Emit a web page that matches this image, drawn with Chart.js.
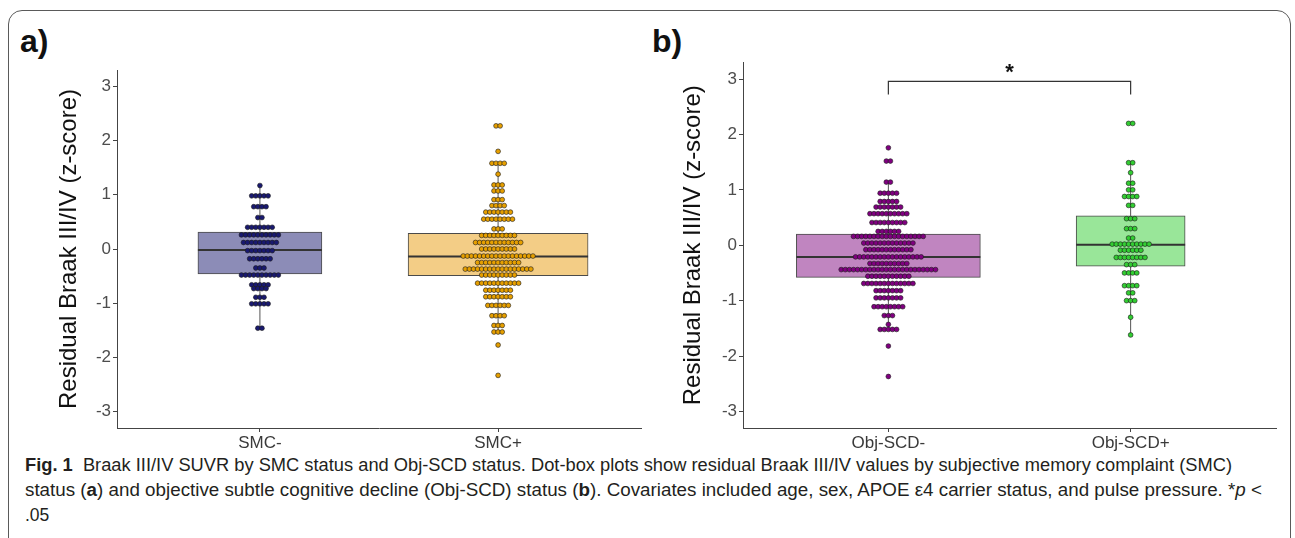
<!DOCTYPE html>
<html>
<head>
<meta charset="utf-8">
<script src="https://cdn.jsdelivr.net/npm/chart.js@4.4.1/dist/chart.umd.min.js"></script>
<style>
  body { margin: 0; background: #fff; width: 1295px; height: 538px; position: relative; overflow: hidden; font-family: "Liberation Sans", Arial, sans-serif; }
  #frame { position: absolute; left: 8px; top: 10px; width: 1283px; height: 700px; border: 1.5px solid #5a5a5a; border-radius: 14px; box-sizing: border-box; }
  canvas { position: absolute; top: 0; }
  .tag { position: absolute; top: 23px; font: bold 32px "Liberation Sans", Arial, sans-serif; color: #111; }
  .cap { position: absolute; left: 25px; font-size: 17.5px; color: #231f20; white-space: nowrap; transform-origin: 0 50%; }
</style>
</head>
<body>
<div id="frame"></div>
<div class="tag" style="left:20px">a)</div>
<div class="tag" style="left:652px">b)</div>
<canvas id="panelA" width="650" height="455" style="left:0"></canvas>
<canvas id="panelB" width="645" height="455" style="left:650px"></canvas>
<div class="cap" data-w="1207" style="top:455px"><b>Fig. 1</b>&nbsp; Braak III/IV SUVR by SMC status and Obj-SCD status. Dot-box plots show residual Braak III/IV values by subjective memory complaint (SMC)</div>
<div class="cap" data-w="1237" style="top:480px">status (<b>a</b>) and objective subtle cognitive decline (Obj-SCD) status (<b>b</b>). Covariates included age, sex, APOE ε4 carrier status, and pulse pressure. *<i>p</i> &lt;</div>
<div class="cap" style="top:505px">.05</div>
<script>
const yTitle = 'Residual Braak III/IV (z-score)';
const yTicks = [-3, -2, -1, 0, 1, 2, 3];

// panel a - SMC status
const catsA = ['SMC-', 'SMC+'];
const dotColorsA = ['#191970', '#E69F00'];
const boxColorsA = ['#8C8CB7', '#F3CD86'];
// dot rows: level of each row and how many dots sit in it
const smcNegRows = [1.17, 0.98, 0.78, 0.58, 0.40, 0.26, 0.12, -0.03, -0.18, -0.35, -0.48, -0.66, -0.73, -0.89, -1.01, -1.46];
const smcNegCounts = [1, 5, 4, 2, 7, 10, 9, 7, 6, 3, 10, 5, 4, 3, 5, 2];
const smcPosRows = [2.27, 1.80, 1.58, 1.38, 1.18, 1.07, 0.91, 0.80, 0.68, 0.55, 0.37, 0.25, 0.12, 0.0, -0.13, -0.25, -0.37, -0.48, -0.63, -0.76, -0.88, -1.04, -1.23, -1.41, -1.53, -1.77, -2.33];
const smcPosCounts = [2, 1, 4, 1, 3, 3, 3, 4, 7, 8, 3, 9, 12, 9, 18, 11, 17, 9, 11, 7, 7, 6, 4, 3, 3, 1, 1];
const q1A = [-0.46, -0.49];
const medA = [-0.02, -0.14];
const q3A = [0.31, 0.29];
const loA = [-1.46, -1.53];
const hiA = [1.17, 1.58];

// panel b - Obj-SCD status
const catsB = ['Obj-SCD-', 'Obj-SCD+'];
const dotColorsB = ['#800080', '#32CD32'];
const boxColorsB = ['#C085C0', '#99E699'];
const scdNegRows = [1.76, 1.52, 1.14, 0.94, 0.79, 0.69, 0.57, 0.41, 0.25, 0.16, 0.04, -0.08, -0.21, -0.33, -0.44, -0.56, -0.69, -0.82, -0.95, -1.11, -1.27, -1.43, -1.52, -1.82, -2.37];
const scdNegCounts = [1, 2, 2, 5, 5, 7, 10, 9, 6, 18, 13, 12, 17, 10, 24, 11, 13, 7, 7, 8, 3, 1, 5, 1, 1];
const scdPosRows = [2.20, 1.49, 1.31, 1.12, 1.0, 0.88, 0.72, 0.48, 0.30, 0.13, 0.02, -0.09, -0.22, -0.35, -0.50, -0.73, -0.86, -1.0, -1.30, -1.62];
const scdPosCounts = [2, 2, 1, 2, 2, 4, 2, 3, 3, 2, 10, 6, 8, 3, 4, 4, 2, 3, 1, 1];
const q1B = [-0.58, -0.38];
const medB = [-0.21, 0.01];
const q3B = [0.20, 0.53];
const loB = [-1.52, -1.62];
const hiB = [1.14, 1.49];

const FONT = '"Liberation Sans", Arial, sans-serif';
const DOT_STEP = 4.1; // px between dot centres in a row

function buildDots(rows, counts, cat, step) {
  const pts = [];
  rows.forEach((y, r) => {
    const n = counts[r];
    for (let k = 0; k < n; k++) {
      pts.push({ x: cat + (k - (n - 1) / 2) * step, y: y });
    }
  });
  return pts;
}

// draw the median right after its box so dots still go on top
const medianLine = {
  id: 'medianLine',
  afterDatasetDraw(chart, args) {
    const ds = chart.data.datasets[args.index];
    if (ds.median === undefined) return;
    const el = args.meta.data[0];
    const y = chart.scales.y.getPixelForValue(ds.median);
    const ctx = chart.ctx;
    ctx.save();
    ctx.strokeStyle = '#333';
    ctx.lineWidth = 2;
    ctx.beginPath();
    ctx.moveTo(el.x - el.width / 2, y);
    ctx.lineTo(el.x + el.width / 2, y);
    ctx.stroke();
    ctx.restore();
  }
};

function makePanel(id, p) {
  const datasets = [];
  const wh = [];
  p.cats.forEach((c, i) => {
    wh.push({ x: i + 1, y: p.lo[i] }, { x: i + 1, y: p.q1[i] }, { x: i + 1, y: null },
            { x: i + 1, y: p.q3[i] }, { x: i + 1, y: p.hi[i] }, { x: i + 1, y: null });
  });
  datasets.push({ type: 'line', data: wh, borderColor: '#555', borderWidth: 1, pointRadius: 0, spanGaps: false, order: 3 });
  p.cats.forEach((c, i) => {
    datasets.push({
      type: 'bar', data: [{ x: i + 1, y: [p.q1[i], p.q3[i]] }],
      backgroundColor: p.boxColors[i], borderColor: '#4a4a4a', borderWidth: 1, borderSkipped: false,
      barThickness: p.boxPx[i], grouped: false, order: 2, median: p.med[i]
    });
  });
  p.cats.forEach((c, i) => {
    datasets.push({
      type: 'scatter', data: [], showLine: false, order: 0,
      pointRadius: 2.4, pointBackgroundColor: p.dotColors[i], pointBorderColor: '#1a1a1a', pointBorderWidth: 0.6
    });
  });

  const chart = new Chart(document.getElementById(id), {
    type: 'scatter',
    data: { datasets },
    options: {
      responsive: false, animation: false, events: [],
      layout: { padding: { top: p.padTop, right: p.padRight, left: 0, bottom: 0 } },
      plugins: { legend: { display: false }, tooltip: { enabled: false } },
      scales: {
        x: {
          type: 'linear', min: 0.4, max: 2.6, offset: false,
          afterBuildTicks: s => { s.ticks = p.cats.map((c, i) => ({ value: i + 1 })); },
          ticks: { callback: v => p.cats[Math.round(v) - 1], font: { family: FONT, size: 17 }, color: '#3a3a3a', padding: 1, maxRotation: 0, autoSkip: false },
          grid: { drawOnChartArea: false, offset: false, tickLength: 4, color: '#444' },
          border: { color: '#444', width: 1 },
          afterFit: s => { s.height = 27; }
        },
        y: {
          type: 'linear', min: -3.3, max: 3.3,
          afterBuildTicks: s => { s.ticks = yTicks.map(v => ({ value: v })); },
          ticks: { font: { family: FONT, size: 17 }, color: '#4d4d4d', padding: 2 },
          grid: { drawOnChartArea: false, tickLength: 4, color: '#444' },
          border: { color: '#444', width: 1 },
          title: { display: true, text: yTitle, font: { family: FONT, size: 24 }, color: '#111', padding: { top: p.titlePad, bottom: 0 } },
          afterFit: s => { s.width = p.yAxisW; }
        }
      }
    },
    plugins: [medianLine].concat(p.extra || [])
  });

  const xs = chart.scales.x;
  const step = DOT_STEP / (xs.getPixelForValue(2) - xs.getPixelForValue(1));
  p.rows.forEach((rows, i) => {
    chart.data.datasets[1 + p.cats.length + i].data = buildDots(rows, p.counts[i], i + 1, step);
  });
  chart.update('none');
  return chart;
}

// significance bracket for panel b
const bracket = {
  id: 'bracket',
  afterDraw(chart) {
    const { ctx, scales: { x, y } } = chart;
    const x1 = x.getPixelForValue(1), x2 = x.getPixelForValue(2);
    const yt = y.getPixelForValue(2.96), yb = y.getPixelForValue(2.72);
    ctx.save();
    ctx.strokeStyle = '#333';
    ctx.lineWidth = 1.2;
    ctx.beginPath();
    ctx.moveTo(x1, yb); ctx.lineTo(x1, yt); ctx.lineTo(x2, yt); ctx.lineTo(x2, yb);
    ctx.stroke();
    ctx.fillStyle = '#111';
    ctx.font = 'bold 22px ' + FONT;
    ctx.textAlign = 'center';
    ctx.textBaseline = 'middle';
    ctx.fillText('*', (x1 + x2) / 2, y.getPixelForValue(3.12));
    ctx.restore();
  }
};

makePanel('panelA', {
  cats: catsA, dotColors: dotColorsA, boxColors: boxColorsA,
  rows: [smcNegRows, smcPosRows], counts: [smcNegCounts, smcPosCounts],
  q1: q1A, med: medA, q3: q3A, lo: loA, hi: hiA,
  boxPx: [124, 180], padTop: 70, padRight: 9, yAxisW: 117, titlePad: 55
});

makePanel('panelB', {
  cats: catsB, dotColors: dotColorsB, boxColors: boxColorsB,
  rows: [scdNegRows, scdPosRows], counts: [scdNegCounts, scdPosCounts],
  q1: q1B, med: medB, q3: q3B, lo: loB, hi: hiB,
  boxPx: [184, 109], padTop: 62.5, padRight: 19, yAxisW: 93, titlePad: 29,
  extra: [bracket]
});

// stretch caption lines to the width they take in the figure
document.querySelectorAll('.cap[data-w]').forEach(el => {
  const w = el.getBoundingClientRect().width;
  el.style.transform = 'scaleX(' + (Number(el.dataset.w) / w) + ')';
});
</script>
</body>
</html>
